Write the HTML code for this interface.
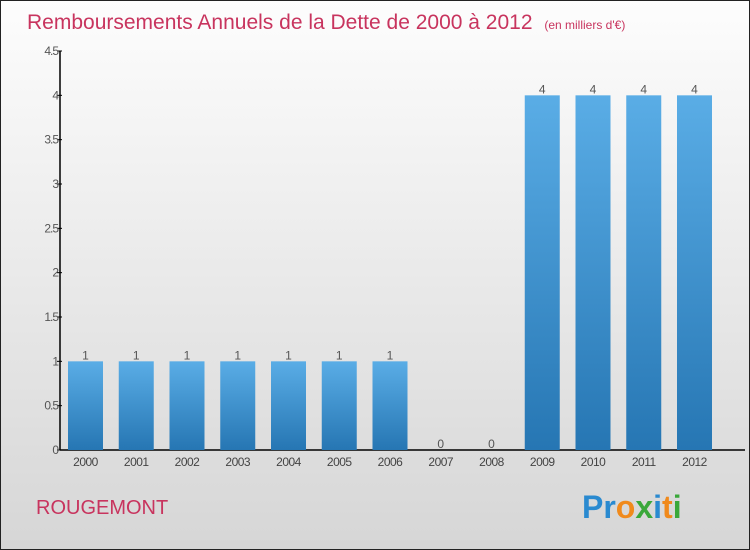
<!DOCTYPE html>
<html><head><meta charset="utf-8"><style>
body{margin:0;width:750px;height:550px;overflow:hidden}
svg{display:block;font-family:"Liberation Sans",sans-serif}
</style></head><body>
<svg width="750" height="550">
<defs>
<linearGradient id="bg" x1="0" y1="0" x2="0" y2="1"><stop offset="0" stop-color="#fdfdfd"/><stop offset="1" stop-color="#d6d6d6"/></linearGradient>
<linearGradient id="bar" x1="0" y1="0" x2="0" y2="1"><stop offset="0" stop-color="#5aade6"/><stop offset="1" stop-color="#2676b3"/></linearGradient>
</defs>
<rect x="0.5" y="0.5" width="749" height="549" fill="url(#bg)" stroke="#222"/>
<text x="27" y="29" font-size="21" fill="#c8345e">Remboursements Annuels de la Dette de 2000 à 2012 <tspan font-size="12" dx="6">(en milliers d'€)</tspan></text>
<g id="plot"></g>
<text x="36" y="514" font-size="20" fill="#c8345e">ROUGEMONT</text>
<text x="582" y="518" font-size="32" font-weight="bold"><tspan fill="#2a8ad0">Pr</tspan><tspan fill="#f08a1c">o</tspan><tspan fill="#3aa83a">x</tspan><tspan fill="#2a8ad0">i</tspan><tspan fill="#f08a1c">t</tspan><tspan fill="#3aa83a">i</tspan></text>
</svg>
<script>
const categories=["2000","2001","2002","2003","2004","2005","2006","2007","2008","2009","2010","2011","2012"];
const values=[1,1,1,1,1,1,1,0,0,4,4,4,4];
const yTicks=[0,0.5,1,1.5,2,2.5,3,3.5,4,4.5];
const yTickLabels=["0","0.5","1","1.5","2","2.5","3","3.5","4","4.5"];
const NS="http://www.w3.org/2000/svg";
const g=document.getElementById('plot');
const x0=60,xEnd=720,y0=450,yTop=51,yMax=4.5;
const y=v=>y0-(v/yMax)*(y0-yTop);
const step=50.75,first=85.5;
const x=i=>first+i*step;
function mk(t,a){const e=document.createElementNS(NS,t);for(const k in a)e.setAttribute(k,a[k]);g.appendChild(e);return e;}
let e;
e=mk('line',{x1:x0,y1:y0,x2:xEnd+25,y2:y0,stroke:'#000','stroke-width':1.5});


e=mk('line',{x1:x0,y1:y0,x2:x0,y2:yTop,stroke:'#000','stroke-width':1.5});


yTicks.forEach((t,i)=>{
 e=mk('line',{x1:x0-3,y1:y(t),x2:x0+2,y2:y(t),stroke:'#000'});
 
 
 e=mk('text',{x:x0-2,y:y(t)+4,'font-size':12,fill:'#555','text-anchor':'end','letter-spacing':'-1'});
 e.textContent=yTickLabels[i];
 
 
});
categories.forEach((c,i)=>{
 const h=y0-y(values[i]);
 e=mk('rect',{x:x(i)-17.5,y:y(values[i]),width:35,height:h,fill:'url(#bar)'});
 
 
 e=mk('text',{x:x(i),y:y(values[i])-2,'font-size':12,fill:'#555','text-anchor':'middle'});
 e.textContent=values[i];
 
 
 e=mk('text',{x:x(i),y:y0+16,'font-size':12,fill:'#444','text-anchor':'middle','letter-spacing':'-0.5'});
 e.textContent=c;
 
 
});
</script>
</body></html>
